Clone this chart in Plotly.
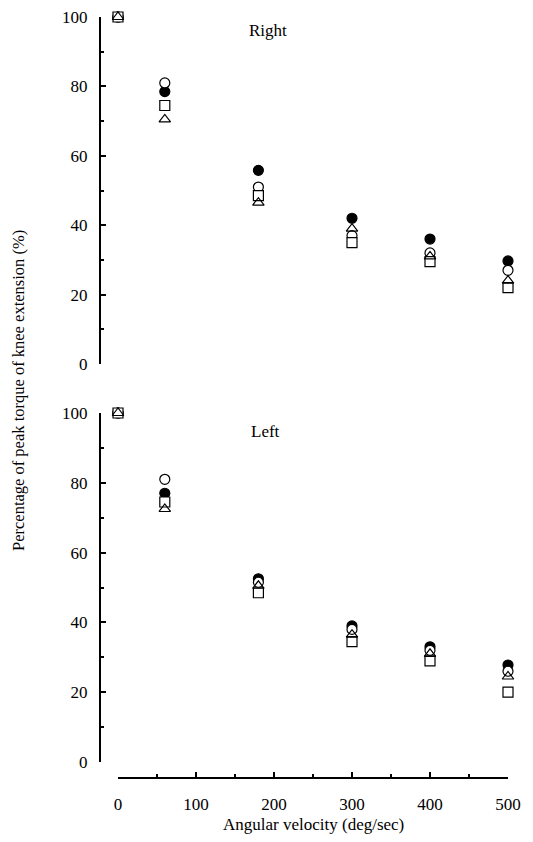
import plotly.graph_objects as go

# page body has an 8px margin; figure sized so it fits the 533x842 window
OFF = 8
W, H = 533 - 2 * OFF, 842 - 2 * OFF

velocity = [0, 60, 180, 300, 400, 500]

right_filled_circle = [100, 78.5, 55.8, 42.0, 36.0, 29.7]
right_open_circle = [100, 81.0, 51.0, 37.0, 32.0, 27.0]
right_square = [100, 74.5, 48.5, 35.0, 29.5, 22.0]
right_triangle = [100, 70.5, 46.5, 39.0, 31.0, 24.0]

left_filled_circle = [100, 77.0, 52.5, 39.0, 33.0, 27.8]
left_open_circle = [100, 81.0, 51.5, 38.0, 32.0, 26.0]
left_square = [100, 74.5, 48.5, 34.5, 29.0, 20.0]
left_triangle = [100, 72.5, 50.5, 36.5, 31.0, 24.5]

y_ticks = [0, 20, 40, 60, 80, 100]
x_ticks = [0, 100, 200, 300, 400, 500]

FONT = "Liberation Serif"


def px_x(p):
    return (p - OFF) / W


def px_y(p):
    return 1 - (p - OFF) / H


fig = go.Figure()

# drawing order: filled circle, open circle, square, triangle (top)
series = [
    ("Filled circle", "circle", "black", right_filled_circle, left_filled_circle),
    ("Open circle", "circle", "white", right_open_circle, left_open_circle),
    ("Square", "square", "white", right_square, left_square),
    ("Triangle", "triangle-up-open", "black", right_triangle, left_triangle),
]

for name, sym, fill, rvals, lvals in series:
    for xa, ya, vals in (("x", "y", rvals), ("x2", "y2", lvals)):
        fig.add_trace(go.Scatter(
            x=velocity, y=vals, mode="markers", name=name,
            xaxis=xa, yaxis=ya, showlegend=False, cliponaxis=False,
            marker=dict(symbol=sym, size=10, color=fill,
                        line=dict(color="black", width=1.2)),
        ))

xdom = [px_x(118), px_x(508)]

yaxis_common = dict(
    range=[0, 100], tickvals=y_ticks, ticks="inside", ticklen=5, tickwidth=2,
    tickcolor="black", showline=True, linecolor="black", linewidth=2,
    showgrid=False, zeroline=False, anchor="free", position=px_x(100),
    automargin=False, ticklabeloverflow="allow",
    tickfont=dict(family=FONT, size=17, color="black"),
    ticklabelstandoff=8,
    minor=dict(dtick=10, ticks="inside", ticklen=3, tickwidth=1.5, tickcolor="black"),
)

ann_font = dict(family=FONT, size=17, color="black")

fig.update_layout(
    width=W, height=H,
    margin=dict(l=0, r=0, t=0, b=0, autoexpand=False),
    paper_bgcolor="white", plot_bgcolor="white",
    showlegend=False,
    xaxis=dict(domain=xdom, range=[0, 500], visible=False, anchor="y",
               automargin=False),
    yaxis=dict(domain=[px_y(364), px_y(17)], **yaxis_common),
    xaxis2=dict(
        domain=xdom, range=[0, 500], tickvals=x_ticks, ticks="inside",
        ticklen=5, tickwidth=2, tickcolor="black", showline=True,
        linecolor="black", linewidth=2, showgrid=False, zeroline=False,
        anchor="free", position=px_y(778), automargin=False,
        ticklabeloverflow="allow",
        tickfont=dict(family=FONT, size=17, color="black"),
        ticklabelstandoff=11,
        minor=dict(dtick=50, ticks="inside", ticklen=3, tickwidth=1.5, tickcolor="black"),
    ),
    yaxis2=dict(domain=[px_y(762), px_y(413)], **yaxis_common),
    annotations=[
        dict(text="Right", x=px_x(268), y=px_y(30), xref="paper", yref="paper",
             xanchor="center", yanchor="middle", showarrow=False, font=ann_font),
        dict(text="Left", x=px_x(265), y=px_y(431), xref="paper", yref="paper",
             xanchor="center", yanchor="middle", showarrow=False, font=ann_font),
        dict(text="Angular velocity (deg/sec)", x=px_x(313), y=px_y(824),
             xref="paper", yref="paper", xanchor="center", yanchor="middle",
             showarrow=False, font=ann_font),
        dict(text="Percentage of peak torque of knee extension (%)",
             x=px_x(18), y=px_y(391), xref="paper", yref="paper",
             xanchor="center", yanchor="middle",
             showarrow=False, textangle=-90,
             font=dict(family=FONT, size=16.5, color="black")),
    ],
)

fig.write_html("out.html")
